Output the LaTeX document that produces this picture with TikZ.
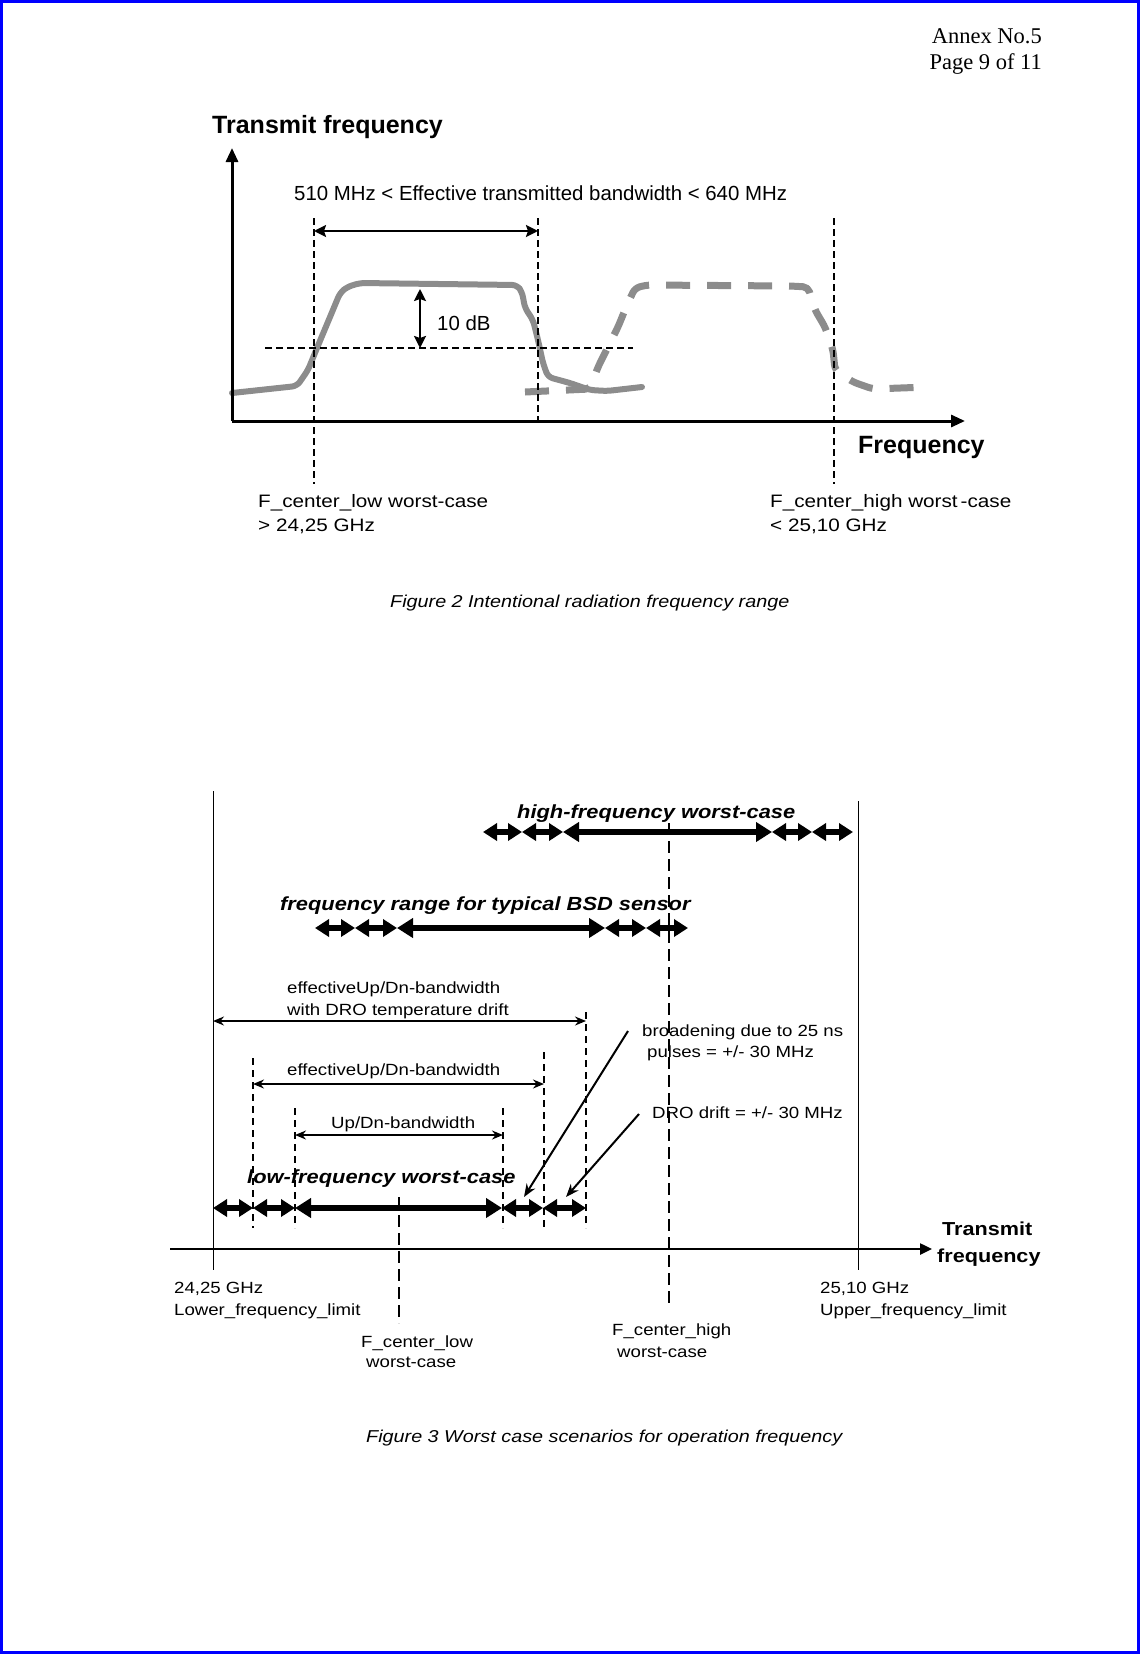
\documentclass[tikz,border=0pt]{standalone}
\usepackage{fontspec}
\setmainfont{Liberation Sans}
\newfontfamily\widesans{Liberation Sans}[FakeStretch=1.15]
\newfontfamily\headserif{Liberation Serif}
\usepackage{tikz}
\usetikzlibrary{arrows.meta}
\definecolor{pageblue} {HTML}{0000FF}
\definecolor{curvegray}{HTML}{8C8C8C}
\definecolor{ink}      {HTML}{000000}

\begin{document}
\begin{tikzpicture}[
  x=1pt, y=-1pt,
  lbl/.style={anchor=base west, inner sep=0pt, text=ink},
  hd/.style={anchor=base east, inner sep=0pt, font=\headserif\fontsize{22.5}{25}\selectfont},
  ttl/.style={lbl, font=\bfseries\fontsize{25}{28}\selectfont},
  big/.style={lbl, font=\fontsize{20.4}{24}\selectfont},
  mid/.style={lbl, font=\widesans\fontsize{18}{21}\selectfont},
  txt/.style={lbl, font=\widesans\fontsize{16.2}{19}\selectfont},
  bt/.style={lbl, font=\widesans\bfseries\fontsize{18.8}{21}\selectfont},
  bi/.style={lbl, font=\widesans\bfseries\itshape\fontsize{19}{22}\selectfont},
  capt/.style={lbl, font=\widesans\itshape\fontsize{17.2}{20}\selectfont},
  axis/.style={line width=3pt, -{Triangle[length=14pt,width=12pt]}},
  axisb/.style={line width=2.5pt, -{Triangle[length=12pt,width=11pt]}},
  vdash/.style={line width=1.8pt, dash pattern=on 7pt off 4pt},
  hdash/.style={line width=1.5pt, dash pattern=on 7pt off 4pt},
  cdash/.style={line width=1.8pt, dash pattern=on 12pt off 6pt},
  tdash/.style={line width=1.3pt, dash pattern=on 7pt off 5pt},
  dim/.style={line width=2.3pt, {Stealth[length=12pt,width=12pt,inset=2pt]}-{Stealth[length=12pt,width=12pt,inset=2pt]}},
  dimb/.style={line width=1.5pt, {Stealth[length=11pt,width=9pt]}-{Stealth[length=11pt,width=9pt]}},
  ptr/.style={line width=2pt, -{Stealth[length=13pt,width=10pt]}},
  seg/.style={line width=5.5pt, {Triangle[length=14pt,width=17pt]}-{Triangle[length=14pt,width=17pt]}},
  band/.style={line width=6pt, {Triangle[length=16pt,width=19pt]}-{Triangle[length=16pt,width=19pt]}},
  spec/.style={curvegray, line width=6pt, line join=round, line cap=round, rounded corners=5pt},
  specd/.style={curvegray, line width=7pt, line join=round, rounded corners=5pt, dash pattern=on 24pt off 17pt}
]
\useasboundingbox (0,0) rectangle (1140,1654);
\draw[pageblue, line width=3pt] (1.5,1.5) rectangle (1138.5,1652.5);

\node[hd] (annex) at (1042,44) {Annex No.5};
\node[hd] (page)  at (1042,70) {Page 9 of 11};

% Figure 2
\draw[spec] (232,393) -- (297,386) -- (308,370) -- (317,348) -- (330,317) -- (340,293)
  -- (347,287) -- (360,283) -- (517,285) -- (522,292) -- (525,308) -- (533,320)
  -- (538,340) -- (543,363) -- (548,377) -- (570,383) -- (590,390) -- (607,391) -- (642,387);
\draw[specd] (525,392) -- (590,389) -- (598,367) -- (610,343) -- (618,327) -- (627,305)
  -- (635,288) -- (647,285) -- (790,286) -- (808,287) -- (815,310) -- (825,327)
  -- (833,350) -- (835,370) -- (853,382) -- (873,389) -- (928,387);

\node[ttl] (ylab) at (212,133) {Transmit frequency};
\coordinate (o2) at (232,421);
\coordinate (ytop) at (232,148);
\coordinate (xend) at (965,421);
\draw[axis] (o2) -- (ytop);
\draw[axis] (o2) -- (xend);
\node[ttl] (xlab) at (858,453) {Frequency};

\node[big] (bwtxt) at (294,200) {510 MHz < Effective transmitted bandwidth < 640 MHz};
\coordinate (loT) at (314,218);
\coordinate (loB) at (314,484);
\coordinate (bwT) at (538,218);
\coordinate (bwB) at (538,421);
\coordinate (hiT) at (834,218);
\coordinate (hiB) at (834,484);
\draw[vdash] (loT) -- (loB);
\draw[vdash] (bwT) -- (bwB);
\draw[vdash] (hiT) -- (hiB);
\coordinate (bwL) at (314,231);
\coordinate (bwR) at (538,231);
\draw[dim] (bwL) -- (bwR);

\coordinate (lvlL) at (265,348);
\coordinate (lvlR) at (633,348);
\draw[hdash] (lvlL) -- (lvlR);
\coordinate (dbT) at (420,289);
\coordinate (dbB) at (420,348);
\draw[dim] (dbT) -- (dbB);
\node[big] (db) at (437,330) {10 dB};

\node[mid] (flo1) at (258,507) {F\_center\_low worst-case};
\node[mid] (flo2) at (258,531) {> 24,25 GHz};
\node[mid] (fhi1) at (770,507) {F\_center\_high worst\,-case};
\node[mid] (fhi2) at (770,531) {< 25,10 GHz};
\node[capt] (cap2) at (390,607) {Figure 2 Intentional radiation frequency range};

% Figure 3
\coordinate (limLoT) at (213,791);
\coordinate (limLoB) at (213,1270);
\coordinate (limHiT) at (858,801);
\coordinate (limHiB) at (858,1270);
\draw[line width=1pt] (limLoT) -- (limLoB);
\draw[line width=1pt] (limHiT) -- (limHiB);
\coordinate (ax3L) at (170,1249);
\coordinate (ax3R) at (932,1249);
\draw[axisb] (ax3L) -- (ax3R);
\node[bt] (tr1) at (942,1235) {Transmit};
\node[bt] (tr2) at (937,1262) {frequency};

\coordinate (fcHiT) at (669,823);
\coordinate (fcHiB) at (669,1306);
\coordinate (fcLoT) at (399,1197);
\coordinate (fcLoB) at (399,1323);
\draw[cdash] (fcHiT) -- (fcHiB);
\draw[cdash] (fcLoT) -- (fcLoB);

\foreach \x/\t [count=\i] in {253/1058, 295/1108, 503/1108, 544/1052, 586/1012} {
  \coordinate (dT\i) at (\x,\t);
  \coordinate (dB\i) at (\x,1228);
  \draw[tdash] (dT\i) -- (dB\i);
}

% bands of up/down segments
\foreach \x [count=\i] in {483,522,563,772,812,853} \coordinate (hi\i) at (\x,832);
\foreach \x [count=\i] in {315,355,397,605,646,688} \coordinate (bs\i) at (\x,928);
\foreach \x [count=\i] in {213,253,295,502,543,586} \coordinate (lo\i) at (\x,1208);
\foreach \r in {hi,bs,lo} {
  \foreach \i/\j in {1/2,2/3,4/5,5/6} \draw[seg] (\r\i) -- (\r\j);
  \draw[band] (\r3) -- (\r4);
}
\node[bi] (highwc) at (517,818) {high-frequency worst-case};
\node[bi] (bsd) at (280,910) {frequency range for typical BSD sensor};
\node[bi] (lowwc) at (247,1183) {low-frequency worst-case};

\node[txt] (ew1) at (287,993) {effectiveUp/Dn-bandwidth};
\node[txt] (ew2) at (287,1015) {with DRO temperature drift};
\coordinate (a1L) at (213,1021);
\coordinate (a1R) at (586,1021);
\draw[dimb] (a1L) -- (a1R);
\node[txt] (eb) at (287,1075) {effectiveUp/Dn-bandwidth};
\coordinate (a2L) at (253,1084);
\coordinate (a2R) at (544,1084);
\draw[dimb] (a2L) -- (a2R);
\node[txt] (ub) at (331,1128) {Up/Dn-bandwidth};
\coordinate (a3L) at (295,1135);
\coordinate (a3R) at (503,1135);
\draw[dimb] (a3L) -- (a3R);

\node[txt] (br1) at (642,1036) {broadening due to 25 ns};
\node[txt] (br2) at (647,1057) {pulses = +/- 30 MHz};
\node[txt] (dro) at (652,1118) {DRO drift = +/- 30 MHz};
\coordinate (brS) at (628,1031);
\coordinate (brE) at (524,1197);
\coordinate (drS) at (639,1114);
\coordinate (drE) at (566,1197);
\draw[ptr] (brS) -- (brE);
\draw[ptr] (drS) -- (drE);

\node[txt] (lo1) at (174,1293) {24,25 GHz};
\node[txt] (lo2) at (174,1315) {Lower\_frequency\_limit};
\node[txt] (up1) at (820,1293) {25,10 GHz};
\node[txt] (up2) at (820,1315) {Upper\_frequency\_limit};
\node[txt] (fcl1) at (361,1347) {F\_center\_low};
\node[txt] (fcl2) at (366,1367) {worst-case};
\node[txt] (fch1) at (612,1335) {F\_center\_high};
\node[txt] (fch2) at (617,1357) {worst-case};
\node[capt] (cap3) at (366,1442) {Figure 3 Worst case scenarios for operation frequency};
\end{tikzpicture}
\end{document}
